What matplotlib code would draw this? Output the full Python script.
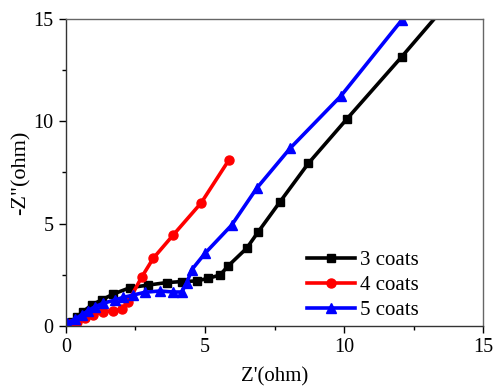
import matplotlib
matplotlib.use('Agg')
import matplotlib.pyplot as plt
from matplotlib.ticker import MultipleLocator

# Nyquist data for the three coatings (Z' and -Z'' in ohm)
x_3coats = [0.04, 0.2, 0.39, 0.62, 0.92, 1.28, 1.70, 2.30, 2.96, 3.62, 4.17, 4.70, 5.12,
            5.54, 5.83, 6.50, 6.92, 7.70, 8.72, 10.10, 12.08, 14.0]
y_3coats = [0.05, 0.21, 0.45, 0.70, 1.03, 1.27, 1.56, 1.87, 2.00, 2.12, 2.17, 2.20, 2.33,
            2.49, 2.93, 3.80, 4.61, 6.07, 7.95, 10.11, 13.16, 16.2]

x_4coats = [0.0, 0.14, 0.39, 0.68, 0.98, 1.34, 1.70, 2.00, 2.24, 2.72, 3.14, 3.86, 4.86, 5.86]
y_4coats = [0.02, 0.08, 0.21, 0.38, 0.54, 0.70, 0.75, 0.82, 1.19, 2.38, 3.31, 4.45, 6.01, 8.11]

x_5coats = [0.03, 0.32, 0.56, 0.80, 1.04, 1.34, 1.76, 2.06, 2.42, 2.84, 3.38, 3.86, 4.16,
            4.34, 4.52, 5.00, 5.96, 6.86, 8.06, 9.89, 12.08]
y_5coats = [0.13, 0.33, 0.54, 0.75, 0.94, 1.11, 1.27, 1.40, 1.51, 1.65, 1.71, 1.66, 1.66,
            2.09, 2.74, 3.55, 4.93, 6.73, 8.68, 11.24, 14.95]

labels = ['3 coats', '4 coats', '5 coats']

plt.rcParams['font.family'] = ['Liberation Serif', 'DejaVu Serif']

fig = plt.figure(figsize=(4.95, 3.89), dpi=100)
ax = fig.add_axes([0.1333, 0.162, 0.8425, 0.7892])

ax.plot(x_3coats, y_3coats, color='black', marker='s', markersize=5.5, linewidth=2.6, label=labels[0])
ax.plot(x_4coats, y_4coats, color='red', marker='o', markersize=6.5, linewidth=2.6, label=labels[1])
ax.plot(x_5coats, y_5coats, color='blue', marker='^', markersize=6.5, linewidth=2.6, label=labels[2])

ax.set_xlim(0, 15)
ax.set_ylim(0, 15)
ax.xaxis.set_major_locator(MultipleLocator(5))
ax.xaxis.set_minor_locator(MultipleLocator(2.5))
ax.yaxis.set_major_locator(MultipleLocator(5))
ax.yaxis.set_minor_locator(MultipleLocator(2.5))
ax.tick_params(which='major', direction='out', length=5, width=1, labelsize=14.5, pad=4)
ax.tick_params(which='minor', direction='out', length=3, width=1)

for side in ['left', 'bottom']:
    ax.spines[side].set_color('#333333')
    ax.spines[side].set_linewidth(1.0)
for side in ['top', 'right']:
    ax.spines[side].set_color('#666666')
    ax.spines[side].set_linewidth(1.0)

ax.set_xlabel("Z'(ohm)", fontsize=15, labelpad=7)
ax.set_ylabel('-Z"(ohm)', fontsize=16, labelpad=2)

ax.legend(loc='upper left', bbox_to_anchor=(0.577, 0.245), frameon=False, fontsize=15,
          handlelength=2.3, handletextpad=0.25, labelspacing=0.26, borderpad=0, borderaxespad=0)

fig.savefig('out.png', dpi=100)
